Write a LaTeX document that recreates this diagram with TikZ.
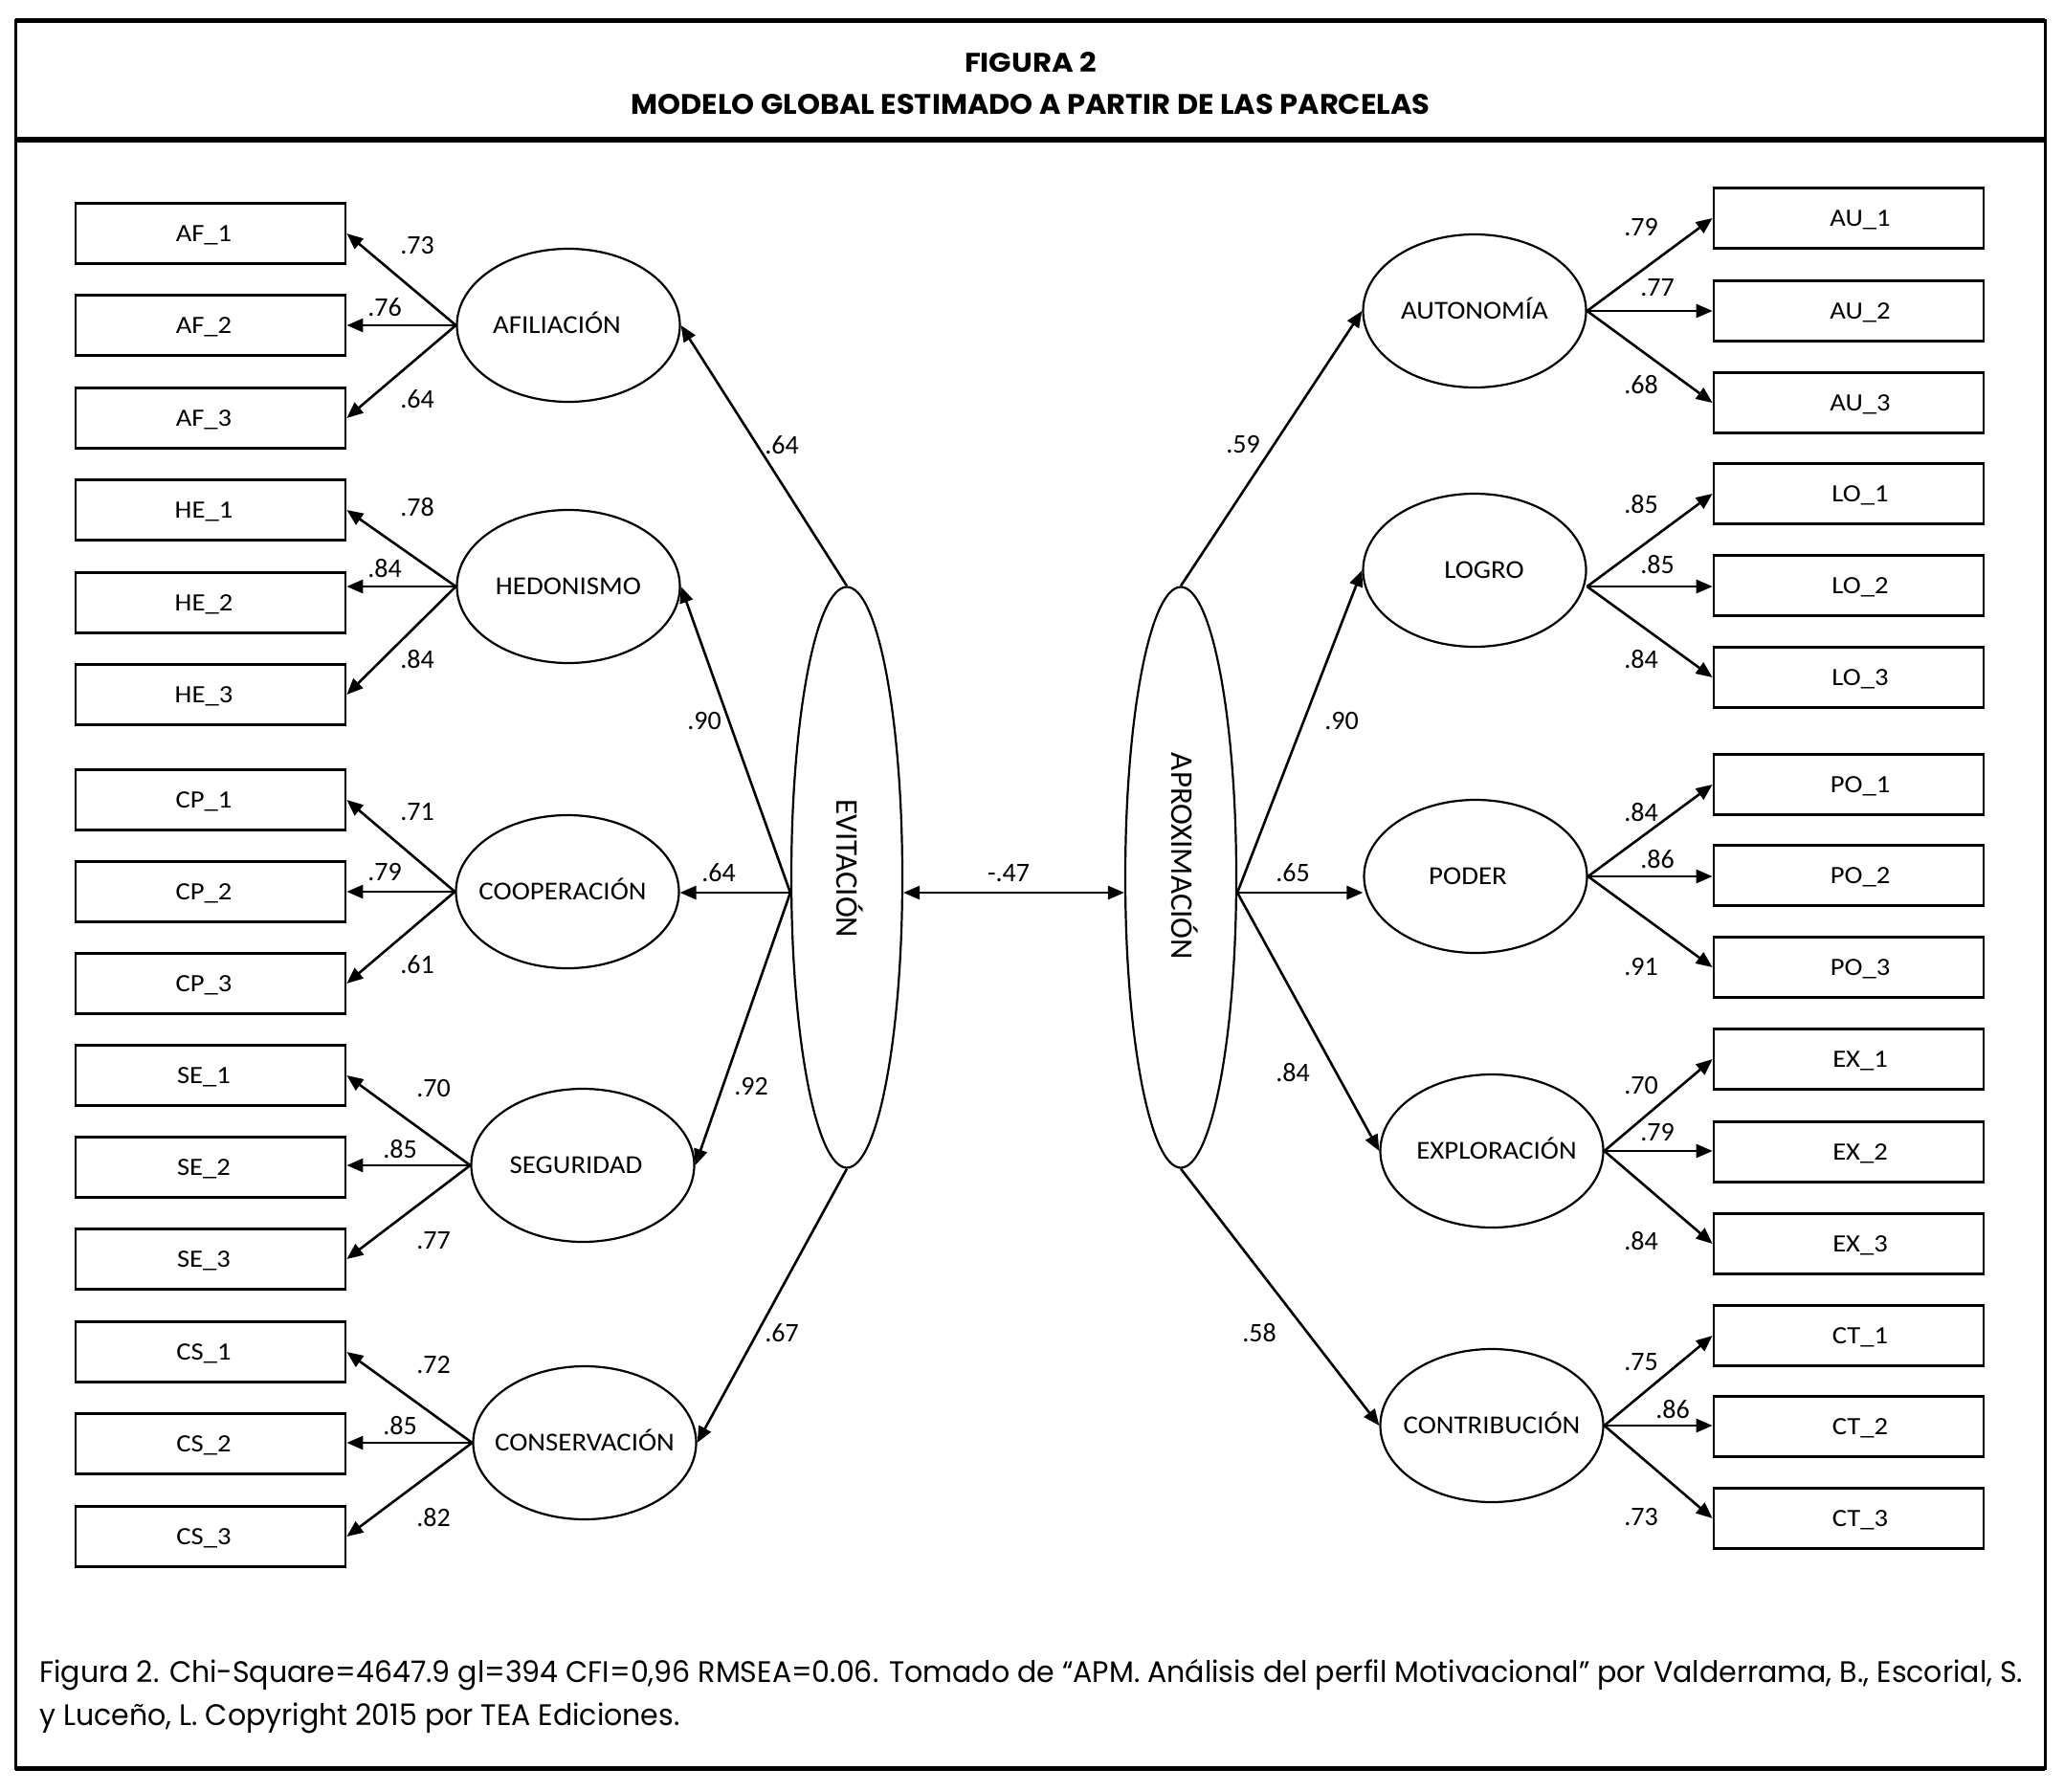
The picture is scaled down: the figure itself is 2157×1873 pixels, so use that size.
\documentclass[tikz,border=0pt]{standalone}
\usepackage{fontspec}
\usepackage{graphicx}
\usetikzlibrary{arrows.meta,calc,shapes.geometric}
\newfontfamily\carlito{Carlito}
\newfontfamily\popp{Poppins}
\newcommand\bxl[1]{\scalebox{1.1}[1]{#1}}
\newcommand\lbx[1]{\hspace*{-14pt}\bxl{#1}}
\newcommand\rbx[1]{\hspace*{24pt}\bxl{#1}}
\newcommand\elab[2][0pt]{\makebox[0pt]{\hspace*{#1}\scalebox{1.07}[1]{#2}}}
\begin{document}
\begin{tikzpicture}[x=1pt,y=-1pt,
  obs/.style={draw, rectangle, line width=2.7pt, minimum width=282pt, minimum height=63pt, inner sep=0pt,
    font=\carlito\fontsize{26}{28}\selectfont, text height=16.5pt, text depth=0pt},
  lat/.style={draw, ellipse, line width=2.2pt, minimum width=233pt, minimum height=160pt, inner sep=0pt,
    font=\carlito\fontsize{27}{29}\selectfont, text height=17.4pt, text depth=0pt},
  big/.style={draw, ellipse, line width=2.2pt, minimum width=116pt, minimum height=607pt, inner sep=0pt},
  bigtxt/.style={rotate=-90, inner sep=0pt, font=\carlito\fontsize{33}{35}\selectfont, text height=21pt, text depth=0pt},
  coef/.style={inner sep=0pt, font=\carlito\fontsize{28}{30}\selectfont},
  arr/.style={line width=2.6pt, -{Triangle[length=17pt,width=14pt]}},
  cov/.style={line width=2.6pt, {Triangle[length=17pt,width=14pt]}-{Triangle[length=17pt,width=14pt]}},
  frameline/.style={line width=3pt},
  thickline/.style={line width=5pt}
]
\useasboundingbox (0,0) rectangle (2157,1873);
\fill[white] (0,0) rectangle (2157,1873);

% frame
\draw[frameline] (16,22) rectangle (2137,1848);
\draw[thickline] (16,22) -- (2137,22);
\draw[thickline] (16,146) -- (2137,146);
\draw[thickline] (16,1848) -- (2137,1848);

% title
\node[inner sep=0pt] (t1) at (1077,65) {\resizebox{138pt}{21pt}{\popp\bfseries\fontsize{28}{30}\selectfont FIGURA 2}};
\node[inner sep=0pt] (t2) at (1077,109) {\resizebox{835pt}{21pt}{\popp\bfseries\fontsize{28}{30}\selectfont MODELO GLOBAL ESTIMADO A PARTIR DE LAS PARCELAS}};

% caption
\node[inner sep=0pt, anchor=west] (cap) at (41,1772) {\resizebox{2073pt}{\height}{\popp\fontsize{31}{45}\selectfont
  \begin{tabular}{@{}l@{}}Figura 2. Chi-Square=4647.9 gl=394 CFI=0,96 RMSEA=0.06. Tomado de “APM. Análisis del perfil Motivacional” por Valderrama, B., Escorial, S.\\
  y Luceño, L. Copyright 2015 por TEA Ediciones.\end{tabular}}};

% left observed boxes
\foreach \g/\ya/\yb/\yc in {AF/244/340/437, HE/533/630/726, CP/836/932/1028, SE/1124/1220/1316, CS/1413/1509/1606}{
  \node[obs] (\g1) at (220,\ya) {\lbx{\g\_1}};
  \node[obs] (\g2) at (220,\yb) {\lbx{\g\_2}};
  \node[obs] (\g3) at (220,\yc) {\lbx{\g\_3}};
}
% right observed boxes
\foreach \g/\ya/\yb/\yc in {AU/228/325/421, LO/516/612/708, PO/820/915/1011, EX/1107/1204/1300, CT/1396/1491/1587}{
  \node[obs] (\g1) at (1932,\ya) {\rbx{\g\_1}};
  \node[obs] (\g2) at (1932,\yb) {\rbx{\g\_2}};
  \node[obs] (\g3) at (1932,\yc) {\rbx{\g\_3}};
}

% latent factors
\node[lat] (AFI) at (594,340) {\elab[-24pt]{AFILIACIÓN}};
\node[lat] (HED) at (594,613) {\elab{HEDONISMO}};
\node[lat] (COOP) at (593,932) {\elab[-10pt]{COOPERACIÓN}};
\node[lat] (SEG) at (609,1218) {\elab[-14pt]{SEGURIDAD}};
\node[lat] (CONS) at (611,1508) {\elab{CONSERVACIÓN}};
\node[lat] (AUT) at (1541,325) {\elab{AUTONOMÍA}};
\node[lat] (LOG) at (1541,596) {\elab[20pt]{LOGRO}};
\node[lat] (POD) at (1542,916) {\elab[-16pt]{PODER}};
\node[lat] (EXP) at (1559,1203) {\elab[10pt]{EXPLORACIÓN}};
\node[lat] (CON) at (1559,1490) {\elab{CONTRIBUCIÓN}};

% second order
\node[big] (EVI) at (885,917) {};
\node[big] (APR) at (1234,917) {};
\node[bigtxt] (EVIt) at (885,908) {EVITACIÓN};
\node[bigtxt] (APRt) at (1235,895) {APROXIMACIÓN};

% origin points
\coordinate (eL) at ($(EVI.west)+(0,16)$);
\coordinate (eR) at ($(EVI.east)+(0,16)$);
\coordinate (aL) at ($(APR.west)+(0,16)$);
\coordinate (aR) at ($(APR.east)+(0,16)$);
\coordinate (LOGo) at ($(LOG.east)+(0,17)$);

% structural paths
\draw[arr] (EVI.north) -- (AFI.east);
\draw[arr] (eL) -- (HED.east);
\draw[arr] (eL) -- (eL -| COOP.east);
\draw[arr] (eL) -- (SEG.east);
\draw[arr] (EVI.south) -- (CONS.east);
\draw[arr] (APR.north) -- (AUT.west);
\draw[arr] (aR) -- (LOG.west);
\draw[arr] (aR) -- (aR -| POD.west);
\draw[arr] (aR) -- (EXP.west);
\draw[arr] (APR.south) -- (CON.west);
\draw[cov] (eR) -- (aL);

% indicator paths left
\foreach \g/\e in {AF/AFI, HE/HED, CP/COOP, SE/SEG, CS/CONS}{
  \draw[arr] (\e.west) -- (\g1.east);
  \draw[arr] (\e.west) -- (\e.west -| \g2.east);
  \draw[arr] (\e.west) -- (\g3.east);
}
% indicator paths right
\foreach \g/\e in {AU/AUT.east, LO/LOGo, PO/POD.east, EX/EXP.east, CT/CON.east}{
  \draw[arr] (\e) -- (\g1.west);
  \draw[arr] (\e) -- (\e -| \g2.west);
  \draw[arr] (\e) -- (\g3.west);
}

% coefficients
\foreach \x/\y/\t [count=\i] in {
  436/257/.73, 402/321/.76, 436/417/.64,
  436/530/.78, 402/594/.84, 436/689/.84,
  436/849/.71, 402/912/.79, 436/1008/.61,
  453/1138/.70, 418/1201/.85, 453/1297/.77,
  453/1427/.72, 418/1490/.85, 453/1586/.82,
  817/465/.64, 736/754/.90, 751/912/.64, 785/1136/.92, 817/1393/.67,
  1054/913/-.47,
  1299/465/.59, 1402/754/.90, 1351/912/.65, 1351/1121/.84, 1316/1393/.58,
  1715/238/.79, 1732/301/.77, 1715/402/.68,
  1715/527/.85, 1732/590/.85, 1715/689/.84,
  1715/849/.84, 1732/898/.86, 1715/1011/.91,
  1715/1135/.70, 1732/1184/.79, 1715/1297/.84,
  1715/1424/.75, 1748/1473/.86, 1715/1586/.73}{
  \node[coef] (c\i) at (\x,\y) {\t};
}
\end{tikzpicture}
\end{document}
